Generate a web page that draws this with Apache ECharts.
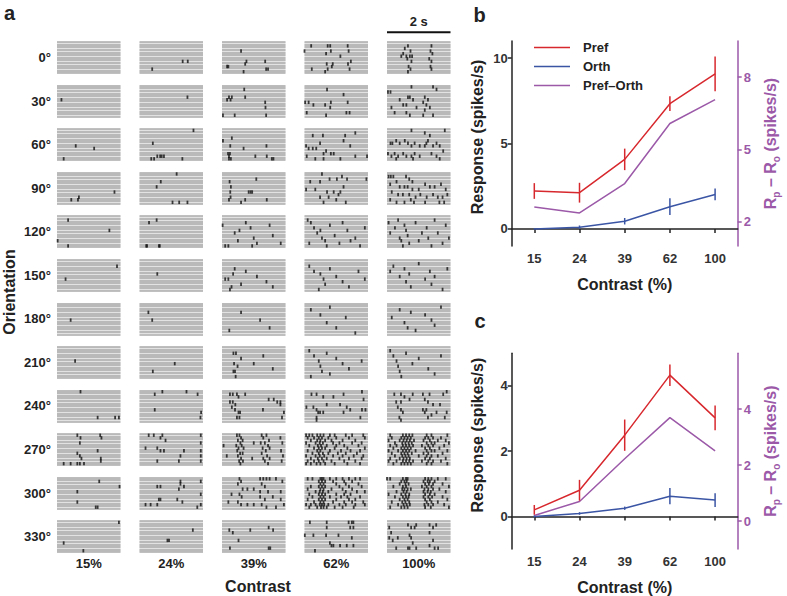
<!DOCTYPE html>
<html><head><meta charset="utf-8">
<script src="https://cdn.jsdelivr.net/npm/echarts@6/dist/echarts.min.js"></script>
<style>html,body{margin:0;padding:0;background:#fff}#c{width:787px;height:596px}</style>
</head><body><div id="c"></div><script>
// ---------- Data ----------
const orientations = ['0°','30°','60°','90°','120°','150°','180°','210°','240°','270°','300°','330°'];
const contrastLabels = ['15%','24%','39%','62%','100%'];
const trialsPerPanel = 12;
const durationS = 2;
const scaleBarS = 2;
// spikes[row][col]: "t,trial" pairs, t in 1/100 s, trial 0 = top
const spikes = [
 ["", "40,10 136,7 152,7", "16,9 20,9 68,11 73,8 77,7 136,7 139,10 145,10 60,3",
  "21,1 73,1 81,1 136,1 0,3 83,3 139,3 68,4 113,5 146,7 70,8 89,8 137,8 86,9 23,10 73,10 142,10 65,11",
  "66,1 140,1 56,2 74,3 137,3 51,4 143,4 45,5 61,5 72,5 79,5 64,6 133,6 77,7 140,7 68,9 137,9 74,10 140,10 66,11"],
 ["14,5", "151,4", "3,11 16,5 22,4 27,5 31,4 70,1 73,4 40,11 136,6 137,8 139,11",
  "71,1 123,3 2,6 13,6 83,6 136,6 28,7 65,7 81,8 7,10 132,10 142,10 68,11",
  "77,0 145,0 156,1 3,2 11,2 66,4 72,4 119,4 40,5 82,5 129,5 114,6 51,7 61,7 124,7 14,8 93,8 135,8 119,9 24,10 61,10 72,11 114,11 145,11"],
 ["59,6 117,7 21,11", "170,0 42,5 56,10 65,10 70,10 77,10 37,11 46,11 135,11",
  "3,4 31,3 26,6 19,9 22,10 25,9 28,11 22,11 68,7 105,10 140,6 141,10 157,11 162,11",
  "160,1 26,2 58,2 128,2 123,4 49,5 5,6 144,6 13,7 26,7 37,7 68,8 60,9 83,9 92,9 7,10 160,10 197,10 34,11 60,11 113,11",
  "182,0 77,0 119,1 135,2 29,4 56,4 129,4 11,5 17,5 40,5 66,5 87,5 124,5 156,5 77,6 103,6 119,6 145,6 166,6 177,8 3,9 24,9 51,9 87,9 140,9 14,10 35,10 61,10 77,10 103,10 156,10 29,11 82,11 166,11"],
 ["181,7 69,9 66,10 45,10", "117,0 67,3 54,5 104,11 125,11 151,11",
  "24,3 28,5 26,7 27,9 22,10 108,2 84,7 90,7 95,7 73,10 141,10 60,11",
  "55,0 134,2 79,2 102,2 195,2 118,1 18,3 49,3 123,5 5,6 34,6 71,7 92,7 113,7 107,8 49,9 76,9 100,10 60,11 130,11",
  "5,1 12,1 20,1 60,1 70,2 30,3 80,3 10,4 120,4 170,4 40,5 55,5 65,5 135,5 150,5 80,6 100,6 185,6 15,7 35,8 50,8 70,8 105,8 145,8 190,8 90,9 125,9 160,9 175,9 10,10 75,10 30,11 55,11 85,11 120,11 165,11 180,11"],
 ["35,1 165,5 2,9 35,11", "54,1 30,2 21,11 24,11 61,11 64,11",
  "2,3 75,2 150,3 90,4 55,5 40,6 160,7 100,8 50,9 110,10 185,10 10,11 20,11 95,11",
  "10,1 20,2 120,2 80,3 30,4 190,4 50,5 135,5 40,6 95,7 55,8 160,8 65,9 145,9 15,10 110,10 70,11 175,11",
  "35,1 150,1 5,2 90,2 55,3 185,3 25,4 125,4 60,5 10,6 110,6 160,6 65,7 40,8 130,8 195,8 45,9 100,9 70,10 175,10 50,11 140,11"],
 ["189,2 27,7", "56,5",
  "40,3 75,4 35,5 110,6 10,7 20,7 140,8 60,9 30,10 160,10 25,11",
  "15,2 80,3 30,4 170,4 50,5 100,6 60,7 190,7 120,8 65,9 140,10 45,11",
  "100,1 20,2 55,3 190,3 10,4 135,4 70,5 40,6 150,6 120,7 60,8 140,9 75,10 175,11"],
 ["43,6", "28,3 40,6", "60,3 120,6 150,9 23,10",
  "80,1 20,2 50,4 130,5 70,7 100,9 160,11",
  "170,1 40,2 75,3 120,4 15,5 140,6 55,7 150,8 65,9 90,10"],
 ["57,5", "111,6 42,9",
  "36,2 44,2 130,3 60,4 38,6 100,6 49,7 160,8 36,9 41,9 43,11",
  "15,1 70,2 30,3 100,4 45,5 180,5 120,6 50,7 140,8 55,9 80,10 20,11",
  "10,1 60,2 20,3 170,3 100,4 30,5 80,6 35,7 130,8 40,9 150,10 45,11"],
 ["74,0 128,10 183,10 195,10", "72,0 148,0 48,1 183,1 48,7 194,8 192,10",
  "25,1 34,1 47,1 73,1 52,2 147,3 163,3 25,4 34,4 174,4 42,5 184,5 31,6 41,7 129,7 52,8 57,8 195,8 47,10 55,10 189,10 184,4",
  "181,0 22,1 38,1 123,1 59,2 91,2 186,3 70,5 112,5 6,6 28,6 133,6 38,7 144,7 181,7 192,7 43,8 49,8 59,8 123,8 38,10 176,10 38,11",
  "188,0 23,1 44,1 81,1 113,1 134,1 177,1 55,2 71,3 119,3 29,4 44,4 129,4 145,5 167,5 34,6 44,7 113,7 124,7 50,8 119,8 156,8 188,8 140,9 39,10 129,10 182,10 44,11"],
 ["64,0 136,0 74,1 140,1 72,3 128,6 64,7 72,8 77,9 138,9 138,10 21,11 43,11 64,11 72,11 85,11",
  "29,0 45,0 72,0 193,0 66,1 82,2 193,3 19,5 56,5 66,6 77,6 140,6 193,6 129,8 193,8 56,10 124,10 193,10",
  "47,0 55,0 60,1 50,2 65,2 58,3 45,4 62,4 52,5 68,5 48,6 57,7 65,7 50,8 60,9 54,10 66,10 58,11 125,0 140,0 130,1 148,2 122,3 135,3 145,4 128,5 150,5 138,6 125,7 142,8 130,9 150,9 135,10 145,11 184,1 190,3 186,6 192,8 188,10 5,4 15,8 100,3 95,9",
  "5,0 15,0 25,0 40,0 50,0 60,0 80,0 95,0 130,0 150,0 185,0 10,1 30,1 45,1 55,1 75,1 100,1 140,1 190,1 20,2 40,2 50,2 65,2 85,2 120,2 160,2 5,3 35,3 48,3 58,3 90,3 110,3 150,3 180,3 15,4 42,4 52,4 70,4 100,4 125,4 170,4 30,5 45,5 55,5 65,5 95,5 135,5 190,5 10,6 40,6 50,6 80,6 115,6 145,6 175,6 25,7 45,7 58,7 75,7 105,7 130,7 165,7 5,8 35,8 48,8 62,8 90,8 120,8 155,8 185,8 20,9 42,9 55,9 70,9 110,9 140,9 180,9 10,10 30,10 45,10 60,10 85,10 125,10 160,10 5,11 20,11 38,11 50,11 65,11 95,11 135,11 175,11",
  "10,0 50,0 60,0 70,0 80,0 125,0 140,0 190,0 15,1 45,1 55,1 65,1 75,1 120,1 130,1 145,1 170,1 5,2 40,2 52,2 62,2 72,2 85,2 115,2 135,2 160,2 185,2 25,3 48,3 58,3 68,3 78,3 125,3 140,3 150,3 195,3 10,4 30,4 50,4 60,4 70,4 82,4 110,4 130,4 145,4 180,4 20,5 45,5 55,5 65,5 75,5 120,5 135,5 165,5 5,6 35,6 50,6 60,6 70,6 90,6 125,6 140,6 150,6 190,6 15,7 45,7 55,7 65,7 78,7 115,7 130,7 175,7 25,8 48,8 58,8 68,8 100,8 125,8 140,8 160,8 10,9 40,9 52,9 62,9 72,9 120,9 135,9 185,9 5,10 30,10 50,10 60,10 70,10 82,10 110,10 130,10 145,10 170,10 20,11 45,11 55,11 65,11 75,11 125,11 140,11 190,11"],
 ["133,1 197,3 64,5 64,9 122,11 128,11",
  "129,1 129,2 56,3 66,3 124,4 140,3 193,1 193,6 193,10 61,8 66,8 119,8 135,9 19,10 35,10 56,10 182,11",
  "55,0 60,1 50,2 120,0 130,0 140,0 150,0 170,0 190,1 125,2 135,3 65,4 80,4 100,4 120,5 145,5 185,5 30,6 55,6 62,7 120,7 135,8 160,7 185,8 20,9 50,9 60,10 80,10 100,10 125,10 140,11 170,11 195,10",
  "10,0 25,0 50,0 55,0 60,0 80,0 100,0 120,0 140,0 160,0 175,0 45,1 55,1 65,1 90,1 125,1 150,1 50,2 60,2 100,2 130,2 170,2 20,3 45,3 55,3 65,3 110,3 140,3 180,3 10,4 50,4 60,4 85,4 120,4 150,4 35,5 48,5 58,5 75,5 130,5 165,5 190,5 15,6 45,6 55,6 65,6 100,6 125,6 145,6 25,7 50,7 60,7 80,7 115,7 135,7 175,7 10,8 45,8 55,8 65,8 100,8 140,8 160,8 30,9 50,9 60,9 90,9 125,9 150,9 185,9 5,10 20,10 35,10 48,10 55,10 62,10 75,10 110,10 130,10 160,10 190,10 15,11 40,11 52,11 60,11 70,11 95,11 120,11 155,11",
  "0,0 10,0 50,0 60,0 65,0 120,0 130,0 140,0 160,0 185,0 45,1 55,1 62,1 115,1 128,1 135,1 150,1 40,2 58,2 68,2 120,2 132,2 145,2 175,2 20,3 50,3 60,3 110,3 125,3 140,3 195,3 48,4 55,4 65,4 75,4 118,4 130,4 145,4 165,4 30,5 52,5 62,5 115,5 128,5 138,5 185,5 5,6 45,6 58,6 70,6 120,6 135,6 150,6 25,7 50,7 60,7 68,7 115,7 130,7 142,7 175,7 40,8 55,8 65,8 120,8 135,8 190,8 15,9 48,9 58,9 70,9 125,9 140,9 160,9 35,10 52,10 62,10 72,10 118,10 130,10 145,10 180,10 10,11 45,11 55,11 65,11 120,11 138,11 195,11"],
 ["195,0 21,8 83,11", "168,3 88,7 93,7",
  "23,3 34,4 89,3 147,2 161,3 52,7 25,10 147,10 152,10",
  "17,0 70,0 139,0 149,0 154,0 144,2 154,2 70,2 1,5 28,5 68,5 107,5 149,6 80,8 85,9 91,9 112,9 133,9 154,9 33,11",
  "7,2 13,4 7,6 18,7 34,6 66,1 76,2 87,2 92,1 134,1 155,1 145,2 134,4 71,5 76,6 81,8 66,10 71,10 92,10 145,7 134,9 150,10 161,10 29,10"]
];
const contrastTicks = ['15','24','39','62','100'];
// panel b
const bPref = [2.22, 2.12, 4.07, 7.33, 9.08];
const bPrefErr = [0.46, 0.58, 0.63, 0.43, 1.02];
const bOrth = [0.0, 0.1, 0.45, 1.3, 2.02];
const bOrthErr = [0.03, 0.1, 0.19, 0.49, 0.34];
const bDiff = [2.62, 2.37, 3.59, 6.08, 7.07];
// panel c
const cPref = [0.2, 0.8, 2.49, 4.33, 3.02];
const cPrefErr = [0.15, 0.32, 0.48, 0.33, 0.38];
const cOrth = [0.0, 0.09, 0.25, 0.62, 0.5];
const cOrthErr = [0.03, 0.04, 0.05, 0.25, 0.21];
const cDiff = [0.2, 0.7, 2.23, 3.7, 2.51];

// ---------- Style / layout ----------
const FONT = 'Liberation Sans, Arial, Helvetica, sans-serif';
const RED = '#d7282e', BLUE = '#3b55a5', PURPLE = '#9b59a8', INK = '#222';
const rasterLeft = 57, colStep = 82.5, panelW = 63.5, rasterTop = 42, rowStep = 43.55, panelH = 31;

const grids = [], xAxes = [], yAxes = [], series = [];
const parseSpikes = s => s.trim().split(/\s+/).filter(Boolean).map(p => {
  const [t, k] = p.split(',').map(Number); return [t / 100, k + 0.5];
});
const lastRow = orientations.length - 1;
orientations.forEach((o, r) => contrastLabels.forEach((cl, c) => {
  const gi = grids.length;
  grids.push({left: rasterLeft + c * colStep, top: rasterTop + r * rowStep, width: panelW, height: panelH,
    show: true, backgroundColor: '#e2e2e2', borderWidth: 0});
  xAxes.push({gridIndex: gi, type: 'value', min: 0, max: durationS,
    axisLine: {show: false}, axisTick: {show: false}, axisLabel: {show: false}, splitLine: {show: false},
    name: r === lastRow ? cl : '', nameLocation: 'middle', nameGap: 5,
    nameTextStyle: {fontSize: 13, fontWeight: 'bold', color: INK, fontFamily: FONT, verticalAlign: 'top'}});
  yAxes.push({gridIndex: gi, type: 'value', min: 0, max: trialsPerPanel, interval: 1, inverse: true,
    axisLine: {show: false}, axisTick: {show: false}, axisLabel: {show: false},
    splitLine: {show: true, lineStyle: {color: '#ababab', width: 1.7}},
    name: c === 0 ? o : '', nameLocation: 'middle', nameRotate: 0, nameGap: 6,
    nameTextStyle: {fontSize: 13, fontWeight: 'bold', color: INK, fontFamily: FONT, align: 'right'}});
  series.push({type: 'scatter', xAxisIndex: gi, yAxisIndex: gi, symbol: 'rect', symbolSize: [1.8, 3.4],
    itemStyle: {color: '#111'}, silent: true, data: parseSpikes(spikes[r][c])});
}));
// scale bar above top-right panel
const sbGrid = contrastLabels.length - 1;
series.push({type: 'custom', xAxisIndex: sbGrid, yAxisIndex: sbGrid, silent: true, clip: false,
  data: [[0, scaleBarS]], encode: {x: [0, 1]},
  renderItem: (params, api) => {
    const p0 = api.coord([api.value(0), 0]), p1 = api.coord([api.value(1), 0]);
    const y = p0[1] - 9.7;
    return {type: 'group', children: [
      {type: 'line', shape: {x1: p0[0], y1: y, x2: p1[0], y2: y}, style: {stroke: '#111', lineWidth: 2}},
      {type: 'text', x: (p0[0] + p1[0]) / 2, y: y - 10.5,
       style: {text: scaleBarS + ' s', font: 'bold 13px ' + FONT, fill: INK, align: 'center', verticalAlign: 'middle'}}
    ]};
  }});

// ---------- Panels b and c ----------
const axisLine = col => ({show: true, lineStyle: {color: col, width: 1.5}});
function addPanel(top, height, yL, yR, pref, prefErr, orth, orthErr, diff) {
  const gi = grids.length;
  grids.push({left: 511.7, top: top, width: 226, height: height});
  const xi = xAxes.length;
  xAxes.push({gridIndex: gi, type: 'category', data: contrastTicks, boundaryGap: true,
    axisLine: axisLine(INK), axisTick: {show: true, alignWithLabel: true, length: 4, lineStyle: {color: INK, width: 1.5}},
    axisLabel: {fontSize: 13, fontWeight: 'bold', color: '#333', margin: 6, fontFamily: FONT},
    name: 'Contrast (%)', nameLocation: 'middle', nameGap: 30,
    nameTextStyle: {fontSize: 16, fontWeight: 'bold', color: INK, fontFamily: FONT}});
  const yl = yAxes.length;
  yAxes.push({gridIndex: gi, type: 'value', position: 'left', min: yL[0], max: yL[1],
    axisLine: axisLine(INK), axisTick: {show: true, length: 4, lineStyle: {color: INK, width: 1.5}, customValues: yL[2]},
    axisLabel: {fontSize: 13, fontWeight: 'bold', color: '#333', margin: 4, fontFamily: FONT, customValues: yL[2]},
    splitLine: {show: false},
    name: 'Response (spikes/s)', nameLocation: 'middle', nameGap: 26, nameRotate: 90,
    nameTextStyle: {fontSize: 16, fontWeight: 'bold', color: INK, fontFamily: FONT, padding: [0, 0, 0, yL[3]]}});
  const yr = yAxes.length;
  yAxes.push({gridIndex: gi, type: 'value', position: 'right', min: yR[0], max: yR[1],
    axisLine: axisLine(PURPLE), axisTick: {show: true, length: 4, lineStyle: {color: PURPLE, width: 1.5}, customValues: yR[2]},
    axisLabel: {fontSize: 13, fontWeight: 'bold', color: PURPLE, margin: 6, fontFamily: FONT, customValues: yR[2]},
    splitLine: {show: false},
    name: '{a|R}{s|p}{a| – R}{s|o}{a| (spikes/s)}', nameLocation: 'middle', nameGap: 22, nameRotate: 90,
    nameTextStyle: {color: PURPLE, fontFamily: FONT, rich: {
      a: {fontSize: 16, fontWeight: 'bold', color: PURPLE, fontFamily: FONT, lineHeight: 22},
      s: {fontSize: 10, fontWeight: 'bold', color: PURPLE, fontFamily: FONT, verticalAlign: 'bottom'}}}});
  const line = (name, data, col, y) => ({type: 'line', name, xAxisIndex: xi, yAxisIndex: y, data,
    symbol: 'none', lineStyle: {color: col, width: 1.5}, itemStyle: {color: col}, z: 3, silent: true});
  const err = (name, vals, errs, col) => ({type: 'custom', name, xAxisIndex: xi, yAxisIndex: yl, silent: true, z: 4,
    data: vals.map((v, i) => [i, v - errs[i], v + errs[i]]), encode: {x: 0, y: [1, 2]},
    renderItem: (params, api) => {
      const a = api.coord([api.value(0), api.value(1)]), b = api.coord([api.value(0), api.value(2)]);
      return {type: 'line', shape: {x1: a[0], y1: a[1], x2: b[0], y2: b[1]}, style: {stroke: col, lineWidth: 1.5}};
    }});
  series.push(line('Pref', pref, RED, yl), line('Orth', orth, BLUE, yl), line('Pref–Orth', diff, PURPLE, yr),
    err('Pref SE', pref, prefErr, RED), err('Orth SE', orth, orthErr, BLUE));
}
addPanel(41, 205, [-1, 11, [0, 5, 10], 13], [1, 9.5, [2, 5, 8]], bPref, bPrefErr, bOrth, bOrthErr, bDiff);
addPanel(353.3, 197.7, [-1, 5, [0, 2, 4], 32], [-1, 6, [0, 2, 4]], cPref, cPrefErr, cOrth, cOrthErr, cDiff);

const txt = (text, x, y, size, extra) => Object.assign({type: 'text', x, y, silent: true,
  style: {text, font: 'bold ' + size + 'px ' + FONT, fill: INK, align: 'center', verticalAlign: 'middle'}}, extra || {});

const option = {
  animation: false,
  textStyle: {fontFamily: FONT},
  grid: grids, xAxis: xAxes, yAxis: yAxes, series,
  legend: {data: ['Pref', 'Orth', 'Pref–Orth'], orient: 'vertical', left: 534, top: 40, padding: 0,
    icon: 'rect', itemWidth: 36, itemHeight: 1.6, itemGap: 4,
    textStyle: {fontSize: 13, fontWeight: 'bold', color: INK, fontFamily: FONT, lineHeight: 15, padding: [0, 0, 0, 8]}},
  graphic: [
    txt('a', 9.5, 13, 20),
    txt('b', 479.5, 15, 20),
    txt('c', 480, 321, 20),
    txt('Orientation', 9, 292, 16, {rotation: Math.PI / 2}),
    txt('Contrast', 258, 586, 16)
  ]
};
const chart = echarts.init(document.getElementById('c'), null, {renderer: 'svg', width: 787, height: 596});
chart.setOption(option);
</script></body></html>
